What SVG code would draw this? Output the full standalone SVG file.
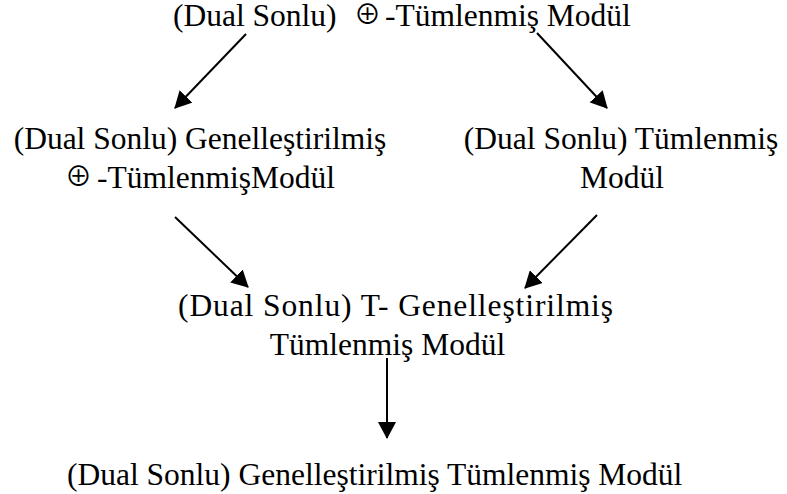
<svg xmlns="http://www.w3.org/2000/svg" width="787" height="494" viewBox="0 0 787 494">
<style>
.t{font-family:'Liberation Serif','Times New Roman','DejaVu Serif',serif;font-size:31.5px;fill:#000}
.m{text-anchor:middle}
.o{font-family:'Noto Sans CJK JP','DejaVu Sans',sans-serif;font-size:27px}
.c{stroke:#000;stroke-width:2;fill:none;marker-end:url(#ah)}
</style>
<defs>
<marker id="ah" markerUnits="userSpaceOnUse" markerWidth="17" markerHeight="18" refX="16" refY="9" orient="auto" viewBox="0 0 17 18">
<path d="M0,0 L17,9 L0,18 z" fill="#000"/>
</marker>
</defs>
<rect width="787" height="494" fill="#fff"/>
<g class="t">
<g id="n-top"><text y="26"><tspan x="173">(Dual Sonlu)</tspan><tspan class="o" x="354" y="24">⊕</tspan><tspan x="385" y="26">-Tümlenmiş Modül</tspan></text></g>
<g id="n-left"><text class="m" x="200" y="149">(Dual Sonlu) Genelleştirilmiş</text><text y="188"><tspan class="o" x="65" y="186">⊕</tspan><tspan x="97" y="188">-TümlenmişModül</tspan></text></g>
<g id="n-right"><text class="m" x="621" y="149">(Dual Sonlu) Tümlenmiş</text><text class="m" x="622" y="188">Modül</text></g>
<g id="n-mid"><text x="178" y="316" textLength="435" lengthAdjust="spacing">(Dual Sonlu) T- Genelleştirilmiş</text><text class="m" x="387.5" y="355">Tümlenmiş Modül</text></g>
<g id="n-bottom"><text x="67" y="485">(Dual Sonlu) Genelleştirilmiş Tümlenmiş Modül</text></g>
</g>
<g id="connectors">
<line class="c" x1="246" y1="34" x2="175" y2="108"/>
<line class="c" x1="537" y1="33" x2="607" y2="108"/>
<line class="c" x1="175" y1="217" x2="248" y2="287"/>
<line class="c" x1="597" y1="215" x2="525" y2="288"/>
<line class="c" x1="387" y1="358" x2="387" y2="438"/>
</g>
</svg>
